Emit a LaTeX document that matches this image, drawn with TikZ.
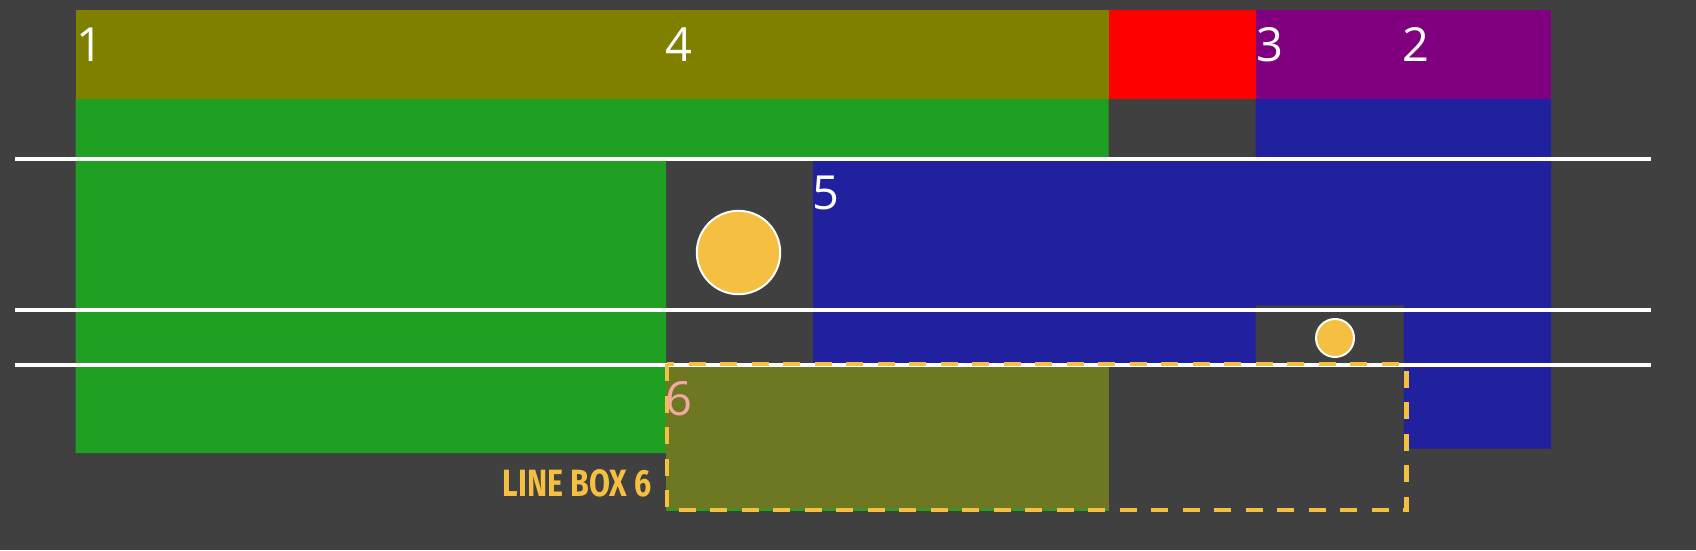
\documentclass[tikz,border=0pt]{standalone}
\usepackage{graphicx}
\usepackage{fontspec}
\setmainfont{Open Sans}
\newfontfamily\boxfont{Fira Sans}
\definecolor{bg}{RGB}{64,64,64}
\definecolor{boxolive}{RGB}{128,128,0}
\definecolor{boxred}{RGB}{255,0,0}
\definecolor{boxpurple}{RGB}{128,0,128}
\definecolor{boxgreen}{RGB}{31,160,34}
\definecolor{boxblue}{RGB}{33,32,159}
\definecolor{boxsix}{RGB}{110,120,35}
\definecolor{ballorange}{RGB}{245,191,66}
\definecolor{sixpink}{RGB}{242,170,160}

\begin{document}
\begin{tikzpicture}[x=1pt,y=-1pt,
  num/.style={anchor=base west,inner sep=0,text=white,font=\fontsize{47}{47}\selectfont},
  guide/.style={white,line width=4},
  ball/.style={fill=ballorange,draw=white,line width=2}]
\useasboundingbox (0,0) rectangle (1696,550);
\fill[bg] (0,0) rectangle (1696,550);
\fill[boxgreen] (75.7,98.7) -- (1108.6,98.7) -- (1108.6,159.3) -- (666,159.3)
  -- (666,453) -- (75.7,453) -- cycle;
\fill[boxblue] (1255.7,98.7) -- (1551,98.7) -- (1551,448.7) -- (1403.8,448.7)
  -- (1403.8,305.3) -- (1255.7,305.3) -- (1255.7,364) -- (813,364)
  -- (813,159.3) -- (1255.7,159.3) -- cycle;
\fill[boxolive] (75.7,10) rectangle (1108.6,98.7);
\fill[boxred] (1108.6,10) rectangle (1255.7,98.7);
\fill[boxpurple] (1255.7,10) rectangle (1551,98.7);
\fill[boxsix] (666,365.3) rectangle (1108.6,510);
\draw[boxgreen,line width=1.5] (666,510) -- (1108.6,510);
\foreach \y in {159.3,310.3,365.3}
  \draw[guide] (15,\y) -- (1651,\y);
\draw[ball] (738.5,252.5) circle (41.7);
\draw[ball] (1335,338) circle (19);
\draw[ballorange,line width=4.5,dash pattern=on 17pt off 14.5pt] (667,364) rectangle (1406.5,510);
\node[num] (n1) at (76,61.7) {1};
\node[num] (n4) at (665,61.7) {4};
\node[num] (n3) at (1256,61.7) {3};
\node[num] (n2) at (1402,61.7) {2};
\node[num] (n5) at (812,209) {5};
\node[num,text=sixpink] (n6) at (665,415) {6};
\node[anchor=base east,inner sep=0,text=ballorange,
  font=\boxfont\bfseries\fontsize{38}{38}\selectfont] (lb6) at (652,496.7)
  {\scalebox{0.8}[1]{LINE BOX 6}};
\end{tikzpicture}
\end{document}
